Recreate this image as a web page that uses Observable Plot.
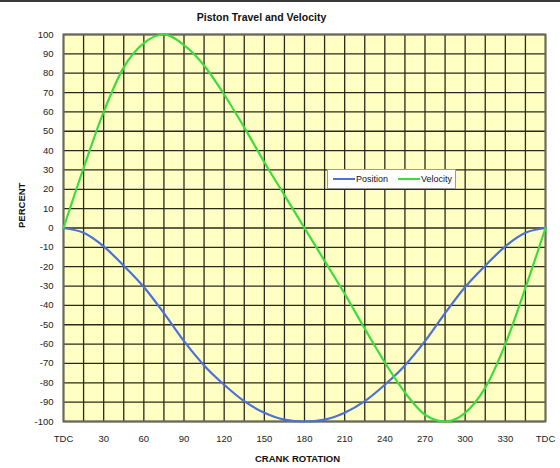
<!DOCTYPE html>
<html>
<head>
<meta charset="utf-8">
<script src="https://cdn.jsdelivr.net/npm/d3@7"></script>
<script src="https://cdn.jsdelivr.net/npm/@observablehq/plot@0.6"></script>
<style>
  body { margin: 0; background: #fff; font-family: "Liberation Sans", Arial, sans-serif; }
  #wrap { position: relative; width: 560px; height: 468px; }
  #topline { position: absolute; left: 0; top: 0; width: 560px; height: 2px; background: #3a3a3a; }
  #legend { position: absolute; left: 327px; top: 169px; width: 129px; height: 20px; background: #fff;
            border: 1px solid #9a9a9a; box-sizing: border-box; display: flex; align-items: center;
            font-size: 9px; color: #111; }
  .sw { display: inline-block; width: 22px; height: 2px; margin-left: 5px; margin-right: 1px; }
</style>
</head>
<body>
<div id="wrap"><div id="topline"></div></div>
<script>
const title = "Piston Travel and Velocity";
const xTitle = "CRANK ROTATION";
const yTitle = "PERCENT";
const seriesNames = ["Position", "Velocity"];
const seriesColors = ["#4d70d6", "#3ddc3d"];

const angles = [0,15,30,45,60,75,90,105,120,135,150,165,180,195,210,225,240,255,270,285,300,315,330,345,360];
const position = [0,-2.5,-9.5,-19.5,-30.5,-44,-58.5,-71,-81,-89.5,-95.5,-99,-100,-99,-95.5,-89.5,-81,-71,-58.5,-44,-30.5,-19.5,-9.5,-2.5,0];
const velocity = [0,31,60,83,95.5,100,94.5,84,69,52,34,17,0,-17,-34,-52,-69.5,-85,-96.5,-100,-95.5,-82.5,-60,-31,0];

const xTicks = [0,30,60,90,120,150,180,210,240,270,300,330,360];
const xTickLabels = ["TDC","30","60","90","120","150","180","210","240","270","300","330","TDC"];
const yTicks = [-100,-90,-80,-70,-60,-50,-40,-30,-20,-10,0,10,20,30,40,50,60,70,80,90,100];
const xGrid = d3.range(0, 361, 15);

const rows = [];
angles.forEach((a, i) => {
  rows.push({angle: a, value: position[i], series: seriesNames[0]});
});
angles.forEach((a, i) => {
  rows.push({angle: a, value: velocity[i], series: seriesNames[1]});
});

const chart = Plot.plot({
  width: 560,
  height: 468,
  marginLeft: 63,
  marginRight: 15,
  marginTop: 34,
  marginBottom: 47,
  style: {fontFamily: "'Liberation Sans', Arial, sans-serif", fontSize: "9.5px", color: "#222", background: "#fff"},
  x: {domain: [0, 360]},
  y: {domain: [-100, 100]},
  color: {domain: seriesNames, range: seriesColors},
  marks: [
    Plot.frame({fill: "#ffffc4", stroke: null}),
    Plot.ruleX(xGrid, {stroke: "#2a2a1a", strokeWidth: 1.3}),
    Plot.ruleY(yTicks, {stroke: "#2a2a1a", strokeWidth: 1.3}),
    Plot.frame({stroke: "#6a6a5a", strokeWidth: 2}),
    Plot.line(rows, {x: "angle", y: "value", z: "series", stroke: "series", strokeWidth: 2.2, curve: "monotone-x"}),
    Plot.axisX(xTicks, {tickSize: 0, tickPadding: 14, tickFormat: d => xTickLabels[xTicks.indexOf(d)], label: null}),
    Plot.axisY(yTicks, {tickSize: 0, tickPadding: 10, tickFormat: d => String(d), label: null}),
    Plot.text([title], {text: d => d, frameAnchor: "top", dx: -43, dy: -21, fontWeight: "bold", fontSize: 10.5, fill: "#111"}),
    Plot.text([xTitle], {text: d => d, frameAnchor: "bottom", dx: -7, dy: 40, fontWeight: "bold", fontSize: 9.5, fill: "#111"}),
    Plot.text([yTitle], {text: d => d, frameAnchor: "left", dx: -42, rotate: -90, fontWeight: "bold", fontSize: 9.5, fill: "#111"})
  ]
});

const wrap = document.getElementById("wrap");
wrap.insertBefore(chart, wrap.firstChild);

const legend = document.createElement("div");
legend.id = "legend";
seriesNames.forEach((name, i) => {
  const sw = document.createElement("span");
  sw.className = "sw";
  sw.style.background = seriesColors[i];
  if (i === 1) sw.style.marginLeft = "10px";
  legend.appendChild(sw);
  const t = document.createElement("span");
  t.textContent = name;
  legend.appendChild(t);
});
wrap.appendChild(legend);
</script>
</body>
</html>
